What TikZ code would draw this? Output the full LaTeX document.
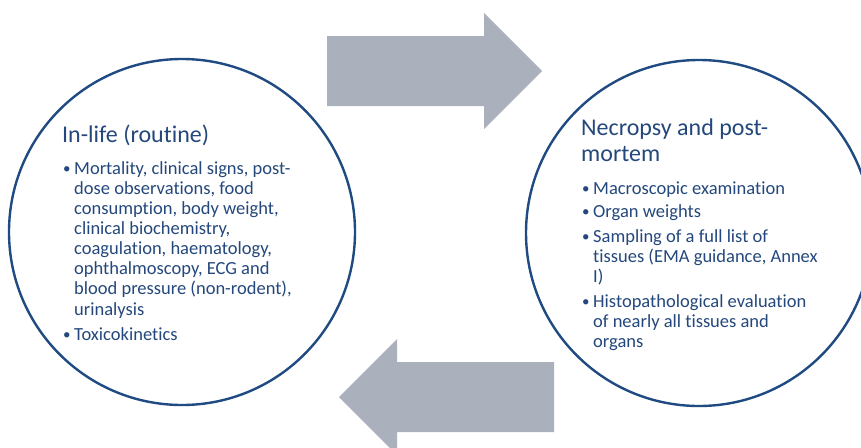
\documentclass[tikz,border=0pt]{standalone}
\usepackage{fontspec}
\setmainfont{Carlito}[Ligatures=NoCommon]
\definecolor{ringblue}{HTML}{1F4A82}
\definecolor{inkblue}{HTML}{24487C}
\definecolor{arrowgrey}{HTML}{ABB0BD}
\tikzset{
  ring/.style={draw=ringblue, line width=2.4pt, fill=white},
  bigarrow/.style={fill=arrowgrey, draw=none},
  % multi-line nodes are placed by the baseline of their last line
  heading/.style={anchor=base west, inner sep=0pt, text=inkblue, align=left,
    font=\fontsize{24}{26}\selectfont},
  dot/.style={anchor=base west, inner sep=0pt, text=inkblue,
    font=\fontsize{15}{20}\selectfont},
  entry/.style={anchor=base west, inner sep=0pt, text=inkblue, align=left,
    font=\fontsize{18.5}{20.1}\selectfont},
}
\begin{document}
\begin{tikzpicture}[x=1pt,y=-1pt]
\useasboundingbox (0,0) rectangle (861,447);
\clip (0,0) rectangle (861,447);

% forward arrow (top)
\path[bigarrow] (327,36) -- (484,36) -- (484,13) -- (542,71) -- (484,129)
  -- (484,106) -- (327,106) -- cycle;
% return arrow (bottom)
\path[bigarrow] (554,362) -- (397,362) -- (397,339) -- (339,397) -- (397,455)
  -- (397,432) -- (554,432) -- cycle;

% the two phases
\node[ring, circle, minimum size=346pt, inner sep=0pt] (inlife) at (182,232) {};
\node[ring, circle, minimum size=346pt, inner sep=0pt] (necropsy) at (699,233) {};

% in-life phase
\node[heading] (t1) at (62,142.3) {In-life (routine)};
\node[dot] (b1a) at (63,173) {\textbullet};
\node[entry] (i1a) at (74,315) {Mortality, clinical signs, post-\\dose observations, food\\consumption, body weight,\\clinical biochemistry,\\coagulation, haematology,\\ophthalmoscopy, ECG and\\blood pressure (non-rodent),\\urinalysis};
\node[dot] (b1b) at (63,339.5) {\textbullet};
\node[entry] (i1b) at (74,340.5) {Toxicokinetics};

% necropsy phase
\node[heading] (t2) at (581,161.7) {Necropsy and post-\\mortem};
\node[dot] (b2a) at (582,193) {\textbullet};
\node[entry] (i2a) at (593,194) {Macroscopic examination};
\node[dot] (b2b) at (582,216.5) {\textbullet};
\node[entry] (i2b) at (593,217.5) {Organ weights};
\node[dot] (b2c) at (582,241.5) {\textbullet};
\node[entry] (i2c) at (593,282.7) {Sampling of a full list of\\tissues (EMA guidance, Annex\\I)};
\node[dot] (b2d) at (582,306) {\textbullet};
\node[entry] (i2d) at (593,347.2) {Histopathological evaluation\\of nearly all tissues and\\organs};
\end{tikzpicture}
\end{document}
